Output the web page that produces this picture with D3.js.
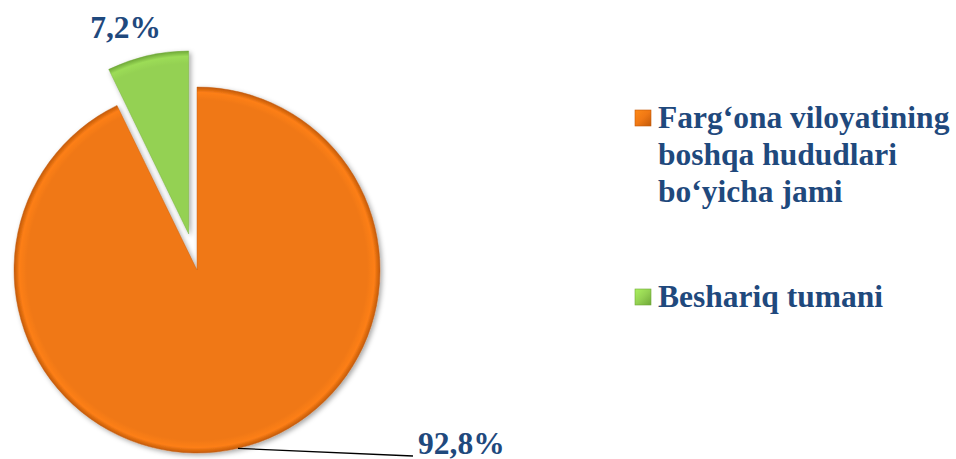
<!DOCTYPE html>
<html>
<head>
<meta charset="utf-8">
<script src="https://cdn.jsdelivr.net/npm/d3@7"></script>
<style>
  html, body { margin: 0; padding: 0; background: #fff; }
  svg { display: block; }
  text { font-family: "Liberation Serif", "Times New Roman", serif; font-weight: bold; }
</style>
</head>
<body>
<svg id="chart" width="956" height="459"></svg>
<script>
// ---- data ----
const categories = ["Farg\u2018ona viloyatining boshqa hududlari bo\u2018yicha jami", "Beshariq tumani"];
const legendLines = [["Farg\u2018ona viloyatining", "boshqa hududlari", "bo\u2018yicha jami"], ["Beshariq tumani"]];
const values = [92.8, 7.2];
const valueLabels = ["92,8%", "7,2%"];
const explode = [0, 37];

// ---- styles/layout ----
const colors = ["#F07814", "#94D152"];
const edgeColors = ["#C25A0A", "#6FA838"];
const textColor = "#1F497D";
const fontSize = 31.5;
const cx = 197, cy = 270, R = 183;

const svg = d3.select("#chart");
const defs = svg.append("defs");

colors.forEach((c, i) => {
  const g = defs.append("radialGradient").attr("id", "grad" + i)
    .attr("gradientUnits", "userSpaceOnUse").attr("cx", 0).attr("cy", 0).attr("r", R);
  g.append("stop").attr("offset", "0%").attr("stop-color", c);
  g.append("stop").attr("offset", "93%").attr("stop-color", c);
  g.append("stop").attr("offset", "97%").attr("stop-color", d3.color(c).brighter(0.15));
  g.append("stop").attr("offset", "100%").attr("stop-color", edgeColors[i]);
  const lg = defs.append("linearGradient").attr("id", "lgrad" + i)
    .attr("x1", 0).attr("y1", 0).attr("x2", 1).attr("y2", 1);
  lg.append("stop").attr("offset", "0%").attr("stop-color", d3.color(c).brighter(0.4));
  lg.append("stop").attr("offset", "50%").attr("stop-color", c);
  lg.append("stop").attr("offset", "100%").attr("stop-color", edgeColors[i]);
});

const f = defs.append("filter").attr("id", "shadow")
  .attr("x", "-20%").attr("y", "-20%").attr("width", "140%").attr("height", "140%");
f.append("feDropShadow").attr("dx", 2).attr("dy", 2).attr("stdDeviation", 2.5)
  .attr("flood-color", "#000").attr("flood-opacity", 0.35);

const pie = d3.pie().sort(null).value(d => d)(values);
const arc = d3.arc().innerRadius(0).outerRadius(R);

const g = svg.append("g").attr("transform", `translate(${cx},${cy})`);

pie.forEach((d, i) => {
  const mid = (d.startAngle + d.endAngle) / 2;
  const ox = Math.sin(mid) * explode[i], oy = -Math.cos(mid) * explode[i];
  g.append("path")
    .attr("d", arc(d))
    .attr("transform", `translate(${ox},${oy})`)
    .attr("fill", `url(#grad${i})`)
    .attr("stroke", edgeColors[i]).attr("stroke-opacity", 0.5).attr("stroke-width", 0.8)
    .attr("filter", "url(#shadow)");
});

// label for big slice with leader line
{
  const d = pie[0];
  const mid = (d.startAngle + d.endAngle) / 2;
  const x0 = Math.sin(mid) * R, y0 = -Math.cos(mid) * R;
  const x1 = 216, y1 = 186;
  g.append("line").attr("x1", x0).attr("y1", y0).attr("x2", x1).attr("y2", y1)
    .attr("stroke", "#000").attr("stroke-width", 1.3);
  g.append("text").attr("x", x1 + 5).attr("y", y1 - 2)
    .attr("font-size", fontSize).attr("fill", textColor).text(valueLabels[0]);
}
// label for small slice
{
  const d = pie[1];
  const mid = (d.startAngle + d.endAngle) / 2;
  const r = 243;
  const a = mid - 0.072;
  g.append("text").attr("x", Math.sin(a) * r).attr("y", -Math.cos(a) * r)
    .attr("text-anchor", "middle").attr("font-size", fontSize).attr("fill", textColor)
    .text(valueLabels[1]);
}

// legend
const legendTop = [128, 307];
const lineH = 37;
const lg = svg.append("g");
legendLines.forEach((lines, i) => {
  lg.append("rect").attr("x", 635).attr("y", legendTop[i] - 18).attr("width", 16).attr("height", 16)
    .attr("fill", `url(#lgrad${i})`).attr("stroke", edgeColors[i]).attr("stroke-width", 0.6);
  const t = lg.append("text").attr("x", 658).attr("y", legendTop[i])
    .attr("font-size", fontSize).attr("fill", textColor);
  lines.forEach((ln, j) => {
    t.append("tspan").attr("x", 658).attr("y", legendTop[i] + j * lineH).text(ln);
  });
});
</script>
</body>
</html>
